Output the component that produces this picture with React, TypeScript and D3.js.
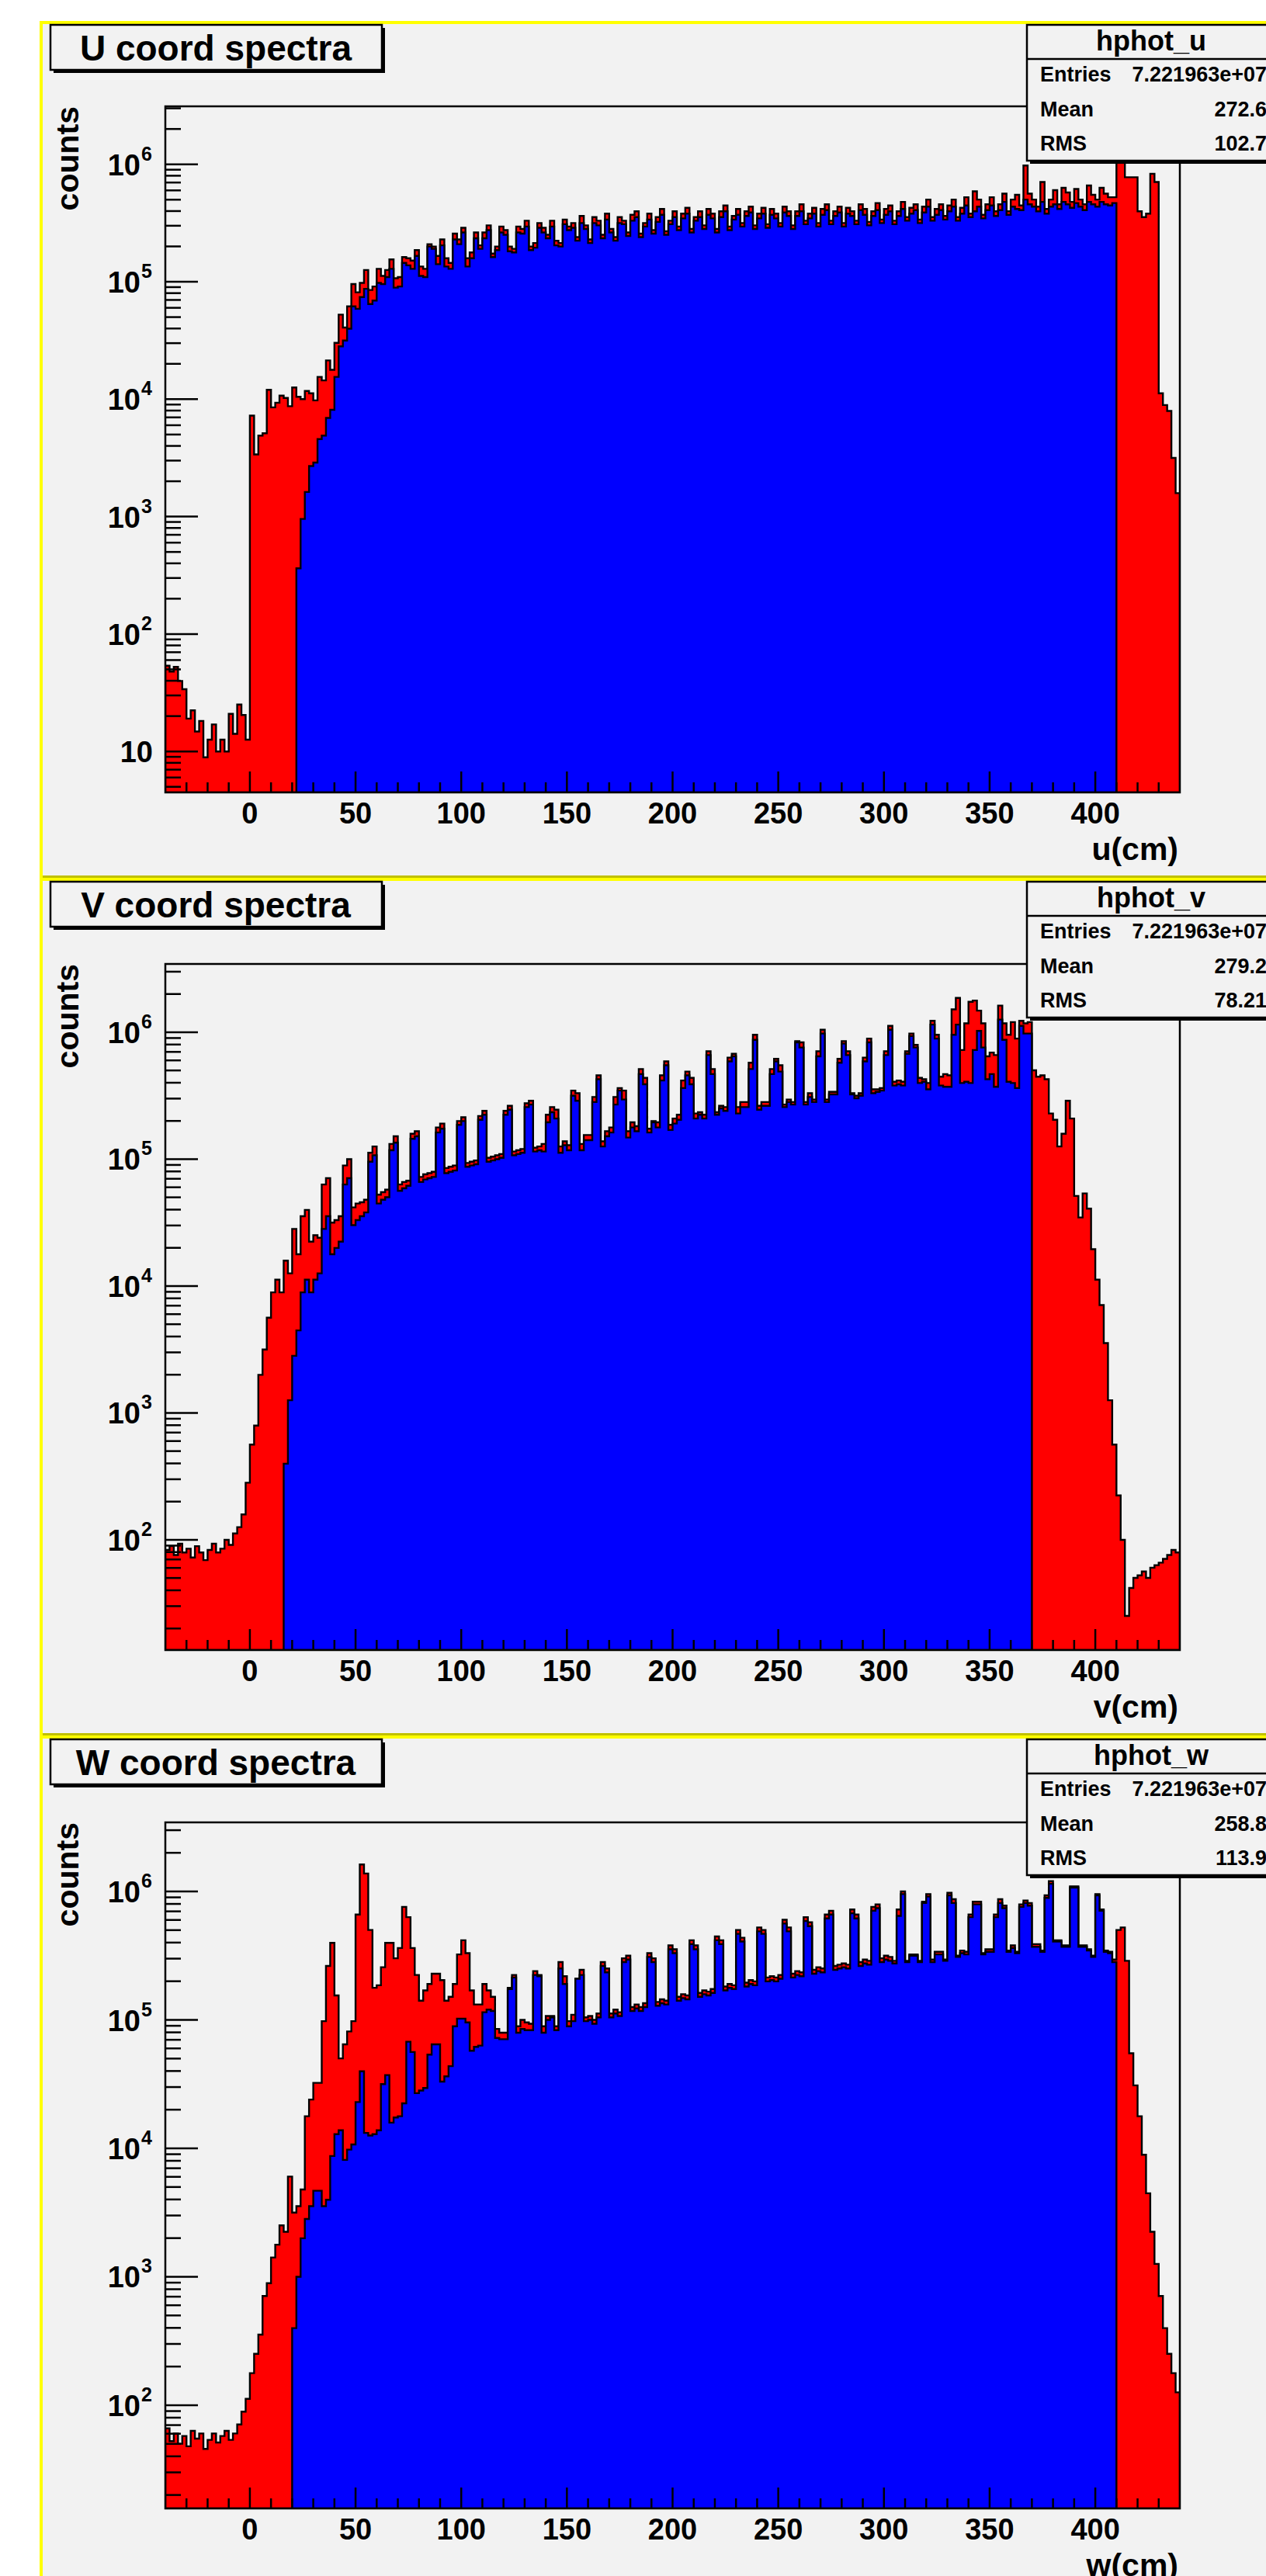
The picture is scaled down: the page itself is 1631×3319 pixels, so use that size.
import React from 'react';
import * as d3 from 'd3';

// Histogram contents as log10(counts), one value per 2 cm bin from -40 to 440 cm,
// read off the log y axis of each pad. "All" = red histogram, "Cut" = blue histogram.
const binLo = -40;
const binHi = 440;
const binWidth = 2;

const uAllLog = [
  1.73, 1.68, 1.72, 1.60, 1.53, 1.28, 1.35, 1.17, 1.26, 0.95,
  1.10, 1.23, 1.00, 1.10, 1.00, 1.32, 1.15, 1.40, 1.31, 1.10,
  3.86, 3.53, 3.69, 3.71, 4.08, 3.93, 3.97, 4.03, 4.01, 3.94,
  4.10, 4.02, 4.00, 4.07, 4.05, 3.99, 4.19, 4.16, 4.33, 4.25,
  4.48, 4.72, 4.61, 4.79, 4.98, 4.91, 4.99, 5.10, 4.93, 4.96,
  5.11, 5.05, 5.10, 5.19, 5.03, 5.04, 5.21, 5.20, 5.18, 5.27,
  5.13, 5.11, 5.32, 5.30, 5.22, 5.36, 5.20, 5.16, 5.41, 5.36,
  5.46, 5.20, 5.25, 5.42, 5.31, 5.42, 5.48, 5.24, 5.30, 5.47,
  5.44, 5.30, 5.28, 5.47, 5.45, 5.52, 5.30, 5.33, 5.50, 5.46,
  5.40, 5.52, 5.35, 5.33, 5.53, 5.47, 5.50, 5.38, 5.56, 5.48,
  5.36, 5.55, 5.52, 5.40, 5.58, 5.45, 5.38, 5.55, 5.52, 5.42,
  5.57, 5.60, 5.41, 5.50, 5.58, 5.44, 5.55, 5.62, 5.43, 5.52,
  5.60, 5.47, 5.58, 5.63, 5.45, 5.55, 5.60, 5.48, 5.62, 5.58,
  5.45, 5.60, 5.65, 5.47, 5.56, 5.62, 5.50, 5.60, 5.64, 5.48,
  5.58, 5.63, 5.49, 5.62, 5.58, 5.50, 5.64, 5.60, 5.48, 5.60,
  5.66, 5.52, 5.58, 5.63, 5.50, 5.62, 5.66, 5.52, 5.60, 5.64,
  5.50, 5.63, 5.60, 5.52, 5.66, 5.62, 5.51, 5.60, 5.67, 5.53,
  5.62, 5.65, 5.52, 5.60, 5.68, 5.55, 5.63, 5.66, 5.53, 5.64,
  5.70, 5.55, 5.62, 5.66, 5.56, 5.65, 5.70, 5.55, 5.63, 5.72,
  5.58, 5.77, 5.70, 5.57, 5.66, 5.72, 5.60, 5.66, 5.75, 5.60,
  5.70, 5.74, 5.65, 5.99, 5.75, 5.70, 5.64, 5.85, 5.62, 5.70,
  5.78, 5.66, 5.80, 5.76, 5.68, 5.79, 5.70, 5.66, 5.82, 5.74,
  5.70, 5.80, 5.75, 5.72, 5.72, 6.05, 6.03, 5.89, 5.89, 5.89,
  5.60, 5.55, 5.58, 5.92, 5.85, 4.05, 3.95, 3.90, 3.50, 3.20,
];
const uCutStart = 31; // first filled bin of the blue histogram
const uCutLog = [
  2.56, 2.98, 3.21, 3.43, 3.46, 3.66, 3.69, 3.84, 3.91,
  4.19, 4.45, 4.50, 4.60, 4.79, 4.77, 4.87, 4.94, 4.81, 4.84,
  4.99, 4.98, 5.04, 5.11, 4.95, 4.96, 5.16, 5.14, 5.11, 5.22,
  5.05, 5.04, 5.30, 5.28, 5.15, 5.31, 5.13, 5.11, 5.36, 5.32,
  5.42, 5.13, 5.20, 5.37, 5.28, 5.37, 5.44, 5.21, 5.27, 5.42,
  5.40, 5.26, 5.25, 5.42, 5.41, 5.47, 5.27, 5.29, 5.46, 5.42,
  5.37, 5.47, 5.31, 5.30, 5.49, 5.44, 5.46, 5.35, 5.50, 5.45,
  5.33, 5.50, 5.48, 5.37, 5.53, 5.42, 5.35, 5.50, 5.49, 5.39,
  5.52, 5.55, 5.38, 5.47, 5.53, 5.41, 5.51, 5.57, 5.40, 5.49,
  5.55, 5.44, 5.54, 5.58, 5.42, 5.52, 5.55, 5.45, 5.57, 5.54,
  5.42, 5.55, 5.60, 5.44, 5.53, 5.57, 5.47, 5.56, 5.59, 5.45,
  5.54, 5.58, 5.46, 5.57, 5.54, 5.47, 5.59, 5.56, 5.45, 5.56,
  5.60, 5.49, 5.54, 5.58, 5.47, 5.57, 5.61, 5.49, 5.56, 5.59,
  5.47, 5.58, 5.56, 5.49, 5.61, 5.57, 5.48, 5.56, 5.61, 5.50,
  5.57, 5.60, 5.49, 5.56, 5.62, 5.52, 5.58, 5.61, 5.50, 5.59,
  5.64, 5.52, 5.57, 5.61, 5.53, 5.60, 5.64, 5.52, 5.58, 5.65,
  5.55, 5.60, 5.64, 5.54, 5.61, 5.65, 5.56, 5.61, 5.68, 5.57,
  5.64, 5.62, 5.61, 5.70, 5.66, 5.64, 5.60, 5.68, 5.58, 5.64,
  5.66, 5.62, 5.68, 5.66, 5.63, 5.67, 5.64, 5.61, 5.68, 5.66,
  5.64, 5.68, 5.66, 5.65, 5.67,
];

const vAllLog = [
  1.92, 1.95, 1.88, 1.97, 1.90, 1.93, 1.86, 1.95, 1.90, 1.84,
  1.92, 1.97, 1.90, 1.93, 2.00, 1.96, 2.05, 2.10, 2.20, 2.45,
  2.75, 2.90, 3.30, 3.50, 3.75, 3.95, 4.05, 3.95, 4.20, 4.10,
  4.45, 4.25, 4.55, 4.60, 4.35, 4.40, 4.38, 4.80, 4.85, 4.50,
  4.52, 4.55, 4.95, 5.00, 4.62, 4.65, 4.66, 4.68, 5.05, 5.10,
  4.72, 4.74, 4.76, 5.12, 5.18, 4.80, 4.82, 4.83, 5.20, 5.22,
  4.86, 4.88, 4.89, 4.90, 5.25, 5.28, 4.93, 4.94, 4.95, 5.30,
  5.33, 4.97, 4.98, 4.99, 5.34, 5.38, 5.01, 5.02, 5.03, 5.04,
  5.38, 5.42, 5.06, 5.07, 5.08, 5.44, 5.46, 5.09, 5.10, 5.12,
  5.35, 5.41, 5.39, 5.10, 5.14, 5.11, 5.54, 5.52, 5.12, 5.19,
  5.19, 5.49, 5.66, 5.14, 5.22, 5.25, 5.49, 5.56, 5.54, 5.22,
  5.29, 5.26, 5.71, 5.64, 5.24, 5.30, 5.29, 5.66, 5.77, 5.27,
  5.32, 5.35, 5.62, 5.69, 5.64, 5.36, 5.37, 5.35, 5.85, 5.71,
  5.37, 5.42, 5.41, 5.80, 5.83, 5.41, 5.45, 5.45, 5.76, 5.98,
  5.42, 5.45, 5.45, 5.71, 5.79, 5.74, 5.43, 5.47, 5.45, 5.93,
  5.92, 5.45, 5.52, 5.47, 5.85, 6.02, 5.47, 5.53, 5.53, 5.79,
  5.93, 5.85, 5.52, 5.50, 5.52, 5.80, 5.95, 5.55, 5.55, 5.56,
  5.85, 6.05, 5.61, 5.62, 5.61, 5.85, 5.99, 5.90, 5.64, 5.63,
  5.60, 6.09, 5.98, 5.65, 5.67, 5.66, 6.18, 6.27, 5.86, 6.07,
  6.24, 6.25, 6.17, 6.07, 5.81, 5.84, 5.82, 6.21, 6.07, 5.98,
  6.08, 5.95, 6.09, 6.07, 6.08, 5.70, 5.65, 5.66, 5.63, 5.36,
  5.31, 5.10, 5.20, 5.46, 5.32, 4.71, 4.54, 4.73, 4.61, 4.29,
  4.05, 3.85, 3.55, 3.10, 2.75, 2.35, 2.00, 1.40, 1.62, 1.70,
  1.72, 1.75, 1.70, 1.78, 1.80, 1.82, 1.85, 1.88, 1.92, 1.90,
];
const vCutStart = 28;
const vCutLog = [
  2.60, 3.10,
  3.45, 3.65, 3.95, 4.05, 3.95, 4.05, 4.10, 4.45, 4.55, 4.25,
  4.30, 4.35, 4.80, 4.85, 4.48, 4.52, 4.55, 4.58, 4.98, 5.03,
  4.65, 4.68, 4.70, 5.07, 5.13, 4.75, 4.77, 4.79, 5.16, 5.18,
  4.82, 4.84, 4.85, 4.86, 5.21, 5.24, 4.89, 4.90, 4.91, 5.27,
  5.30, 4.94, 4.95, 4.96, 5.31, 5.35, 4.98, 4.99, 5.00, 5.01,
  5.35, 5.39, 5.03, 5.04, 5.05, 5.41, 5.43, 5.06, 5.07, 5.06,
  5.29, 5.37, 5.32, 5.05, 5.11, 5.07, 5.50, 5.46, 5.07, 5.15,
  5.15, 5.45, 5.63, 5.10, 5.18, 5.21, 5.43, 5.54, 5.47, 5.17,
  5.25, 5.22, 5.67, 5.59, 5.21, 5.29, 5.25, 5.62, 5.74, 5.23,
  5.28, 5.31, 5.56, 5.66, 5.59, 5.32, 5.35, 5.32, 5.82, 5.67,
  5.35, 5.40, 5.38, 5.77, 5.81, 5.36, 5.41, 5.41, 5.71, 5.94,
  5.39, 5.42, 5.42, 5.67, 5.77, 5.69, 5.41, 5.45, 5.43, 5.92,
  5.88, 5.43, 5.49, 5.45, 5.81, 5.99, 5.45, 5.51, 5.51, 5.76,
  5.91, 5.82, 5.51, 5.48, 5.50, 5.77, 5.92, 5.52, 5.53, 5.54,
  5.82, 6.02, 5.58, 5.59, 5.58, 5.83, 5.97, 5.88, 5.60, 5.61,
  5.55, 6.06, 5.95, 5.58, 5.57, 5.57, 5.98, 6.06, 5.60, 5.61,
  5.60, 5.86, 6.01, 5.88, 5.63, 5.67, 5.57, 6.10, 5.94, 5.61,
  5.60, 5.56, 6.05, 5.99, 5.99,
];

const wAllLog = [
  1.82, 1.72, 1.78, 1.70, 1.76, 1.68, 1.80, 1.74, 1.78, 1.66,
  1.73, 1.78, 1.71, 1.76, 1.80, 1.73, 1.78, 1.85, 1.95, 2.05,
  2.25, 2.40, 2.55, 2.85, 2.95, 3.15, 3.25, 3.40, 3.35, 3.78,
  3.50, 3.55, 3.68, 4.25, 4.38, 4.51, 4.51, 4.99, 5.42, 5.60,
  5.19, 4.70, 4.81, 4.91, 4.99, 5.82, 6.21, 6.14, 5.70, 5.25,
  5.27, 5.41, 5.60, 5.60, 5.48, 5.56, 5.88, 5.80, 5.56, 5.35,
  5.15, 5.23, 5.28, 5.36, 5.36, 5.31, 5.15, 5.18, 5.28, 5.51,
  5.62, 5.52, 5.23, 5.12, 5.12, 5.28, 5.23, 5.18, 4.93, 4.90,
  4.90, 5.25, 5.35, 4.95, 5.00, 4.98, 4.97, 5.38, 5.35, 4.95,
  5.03, 5.03, 4.95, 5.45, 5.34, 4.99, 5.04, 5.32, 5.39, 5.02,
  5.03, 5.00, 5.05, 5.45, 5.40, 5.05, 5.08, 5.06, 5.48, 5.50,
  5.10, 5.12, 5.10, 5.13, 5.52, 5.48, 5.14, 5.16, 5.15, 5.58,
  5.55, 5.18, 5.20, 5.19, 5.62, 5.58, 5.21, 5.23, 5.22, 5.24,
  5.65, 5.62, 5.26, 5.28, 5.27, 5.70, 5.64, 5.29, 5.31, 5.30,
  5.72, 5.70, 5.33, 5.34, 5.33, 5.35, 5.78, 5.72, 5.36, 5.38,
  5.37, 5.80, 5.76, 5.39, 5.41, 5.40, 5.82, 5.85, 5.42, 5.43,
  5.44, 5.43, 5.86, 5.82, 5.45, 5.47, 5.46, 5.88, 5.90, 5.48,
  5.50, 5.49, 5.46, 5.86, 6.00, 5.46, 5.51, 5.51, 5.46, 5.92,
  5.98, 5.47, 5.53, 5.53, 5.47, 5.99, 5.94, 5.50, 5.54, 5.53,
  5.82, 5.92, 5.92, 5.52, 5.55, 5.55, 5.82, 5.94, 5.89, 5.54,
  5.58, 5.53, 5.90, 5.93, 5.91, 5.59, 5.59, 5.54, 5.97, 6.08,
  5.62, 5.62, 5.58, 5.58, 6.04, 6.04, 5.58, 5.58, 5.55, 5.50,
  5.98, 5.86, 5.54, 5.53, 5.47, 5.70, 5.72, 5.46, 4.74, 4.49,
  4.25, 3.95, 3.65, 3.35, 3.10, 2.85, 2.60, 2.40, 2.25, 2.10,
];
const wCutStart = 30;
const wCutLog = [
  2.60, 3.00, 3.30, 3.45, 3.55, 3.67, 3.67, 3.55, 3.60,
  3.94, 4.11, 4.14, 3.91, 3.99, 4.03, 4.36, 4.60, 4.12, 4.10,
  4.11, 4.14, 4.50, 4.57, 4.20, 4.24, 4.25, 4.35, 4.83, 4.75,
  4.43, 4.45, 4.47, 4.73, 4.81, 4.81, 4.52, 4.56, 4.64, 4.95,
  5.01, 5.01, 4.98, 4.76, 4.79, 4.80, 5.06, 5.08, 5.07, 4.86,
  4.85, 4.85, 5.24, 5.33, 4.90, 4.93, 4.92, 4.92, 5.35, 5.34,
  4.90, 5.00, 5.02, 4.92, 5.40, 5.28, 4.95, 4.99, 5.32, 5.35,
  4.99, 5.00, 4.97, 5.02, 5.42, 5.37, 5.02, 5.05, 5.03, 5.45,
  5.47, 5.07, 5.09, 5.07, 5.10, 5.49, 5.45, 5.11, 5.13, 5.12,
  5.55, 5.52, 5.15, 5.17, 5.16, 5.59, 5.55, 5.18, 5.20, 5.19,
  5.21, 5.62, 5.59, 5.23, 5.25, 5.24, 5.67, 5.61, 5.26, 5.28,
  5.27, 5.69, 5.67, 5.30, 5.31, 5.30, 5.32, 5.75, 5.69, 5.33,
  5.35, 5.34, 5.77, 5.73, 5.36, 5.38, 5.37, 5.79, 5.82, 5.39,
  5.40, 5.41, 5.40, 5.83, 5.79, 5.42, 5.44, 5.43, 5.85, 5.87,
  5.45, 5.47, 5.46,
  5.44, 5.81, 5.98, 5.45, 5.50, 5.50, 5.45, 5.91, 5.96, 5.45,
  5.51, 5.51, 5.46, 5.97, 5.91, 5.49, 5.52, 5.51, 5.80, 5.90,
  5.90, 5.51, 5.53, 5.53, 5.80, 5.91, 5.87, 5.53, 5.56, 5.52,
  5.88, 5.91, 5.89, 5.57, 5.57, 5.53, 5.95, 6.06, 5.61, 5.61,
  5.57, 5.57, 6.03, 6.03, 5.57, 5.57, 5.54, 5.49, 5.97, 5.85,
  5.53, 5.52, 5.45,
];

const padTitles = ['U coord spectra', 'V coord spectra', 'W coord spectra'];
const histNames = ['hphot_u', 'hphot_v', 'hphot_w'];
const xTitles = ['u(cm)', 'v(cm)', 'w(cm)'];
const entries = ['7.221963e+07', '7.221963e+07', '7.221963e+07'];
const means = ['272.6', '279.2', '258.8'];
const rmsValues = ['102.7', '78.21', '113.9'];
const xTickValues = [0, 50, 100, 150, 200, 250, 300, 350, 400];
// log10 of the y axis bottom/top in each pad
const yLogRanges = [[0.651, 6.494], [1.131, 6.538], [1.196, 6.538]];

const allSeries = [uAllLog, vAllLog, wAllLog];
const cutSeries = [uCutLog, vCutLog, wCutLog];
const cutStarts = [uCutStart, vCutStart, wCutStart];

// layout (px)
const W = 1631;
const H = 3319;
const padTops = [27, 1131, 2236];
const frameTops = [137, 1242, 2348];
const frameH = 884;
const frameL = 213;
const frameR = 1520;
const font = '"Liberation Sans", Arial, Helvetica, sans-serif';
const padFill = '#f2f2f2';

function stepPoints(vals: number[], start: number, x: any, y: any, floor: number, ceil: number) {
  const pts: [number, number][] = [];
  pts.push([x(binLo + start * binWidth), floor]);
  vals.forEach((v, k) => {
    const b = start + k;
    const yy = v == null ? floor : Math.max(ceil, Math.min(floor, y(Math.pow(10, v))));
    pts.push([x(binLo + b * binWidth), yy]);
    pts.push([x(binLo + (b + 1) * binWidth), yy]);
  });
  pts.push([x(binLo + (start + vals.length) * binWidth), floor]);
  return pts;
}

function Pad({ i }: { i: number }) {
  const top = padTops[i];
  const fTop = frameTops[i];
  const fBot = fTop + frameH;
  const [lo, hi] = yLogRanges[i];

  const x = d3.scaleLinear().domain([binLo, binHi]).range([frameL, frameR]);
  const y = d3.scaleLog().domain([Math.pow(10, lo), Math.pow(10, hi)]).range([fBot, fTop]);
  const line = d3.line();

  const redPath = line(stepPoints(allSeries[i], 0, x, y, fBot, fTop)) + 'Z';
  const bluePath = line(stepPoints(cutSeries[i], cutStarts[i], x, y, fBot, fTop)) + 'Z';

  // log axis ticks
  const yMajor: number[] = [];
  const yMinor: number[] = [];
  for (let k = Math.floor(lo); k <= Math.ceil(hi); k++) {
    for (let m = 1; m <= 9; m++) {
      const v = m * Math.pow(10, k);
      if (Math.log10(v) < lo || Math.log10(v) > hi) continue;
      (m === 1 ? yMajor : yMinor).push(v);
    }
  }
  const xMinor = d3.range(binLo + 10, binHi, 10).filter((v) => v % 50 !== 0);
  const clipId = `frameclip${i}`;
  const labelRight = 197;

  return (
    <g fontFamily={font} fontWeight="bold" fill="#000">
      <defs>
        <clipPath id={clipId}>
          <rect x={frameL} y={fTop} width={frameR - frameL} height={frameH} />
        </clipPath>
      </defs>

      {/* histograms */}
      <g clipPath={`url(#${clipId})`}>
        <path d={redPath} fill="#ff0000" stroke="#000" strokeWidth={2.4} />
        <path d={bluePath} fill="#0000ff" stroke="#000" strokeWidth={2.4} />
      </g>

      {/* frame */}
      <rect x={frameL} y={fTop} width={frameR - frameL} height={frameH}
        fill="none" stroke="#000" strokeWidth={2.5} />

      {/* y axis ticks + labels */}
      {yMajor.map((v) => {
        const yy = y(v);
        const k = Math.round(Math.log10(v));
        return (
          <g key={`ym${v}`}>
            <line x1={frameL} x2={frameL + 42} y1={yy} y2={yy} stroke="#000" strokeWidth={2.5} />
            {k === 1 ? (
              <text x={labelRight} y={yy + 14} fontSize={38} textAnchor="end">10</text>
            ) : (
              <>
                <text x={labelRight - 16} y={yy + 14} fontSize={38} textAnchor="end">10</text>
                <text x={labelRight - 15} y={yy - 5} fontSize={25}>{k}</text>
              </>
            )}
          </g>
        );
      })}
      {yMinor.map((v) => (
        <line key={`yn${v}`} x1={frameL} x2={frameL + 20} y1={y(v)} y2={y(v)} stroke="#000" strokeWidth={2.5} />
      ))}

      {/* x axis ticks + labels */}
      {xTickValues.map((v) => (
        <g key={`xm${v}`}>
          <line x1={x(v)} x2={x(v)} y1={fBot} y2={fBot - 27} stroke="#000" strokeWidth={2.5} />
          <text x={x(v)} y={fBot + 40} fontSize={38} textAnchor="middle">{v}</text>
        </g>
      ))}
      {xMinor.map((v) => (
        <line key={`xn${v}`} x1={x(v)} x2={x(v)} y1={fBot} y2={fBot - 13} stroke="#000" strokeWidth={2.5} />
      ))}

      {/* axis titles */}
      <text x={frameR - 2} y={fBot + 87} fontSize={41} textAnchor="end">{xTitles[i]}</text>
      <text transform={`translate(101,${fTop}) rotate(-90)`} fontSize={41} textAnchor="end">counts</text>

      {/* pad title box */}
      <rect x={69} y={top + 9} width={427} height={58} fill="#000" />
      <rect x={65} y={top + 5} width={427} height={58} fill={padFill} stroke="#000" strokeWidth={2.5} />
      <text x={278} y={top + 51} fontSize={46} textAnchor="middle">{padTitles[i]}</text>

      {/* stats box */}
      <rect x={1327} y={top + 9} width={320} height={175} fill="#000" />
      <rect x={1323} y={top + 5} width={320} height={175} fill={padFill} stroke="#000" strokeWidth={2.5} />
      <line x1={1323} x2={1643} y1={top + 49} y2={top + 49} stroke="#000" strokeWidth={2.5} />
      <text x={1483} y={top + 38} fontSize={36} textAnchor="middle">{histNames[i]}</text>
      <text x={1340} y={top + 78} fontSize={27}>Entries</text>
      <text x={1632} y={top + 78} fontSize={27} textAnchor="end">{entries[i]}</text>
      <text x={1340} y={top + 123} fontSize={27}>Mean</text>
      <text x={1632} y={top + 123} fontSize={27} textAnchor="end">{means[i]}</text>
      <text x={1340} y={top + 167} fontSize={27}>RMS</text>
      <text x={1632} y={top + 167} fontSize={27} textAnchor="end">{rmsValues[i]}</text>
    </g>
  );
}

export default function App() {
  return (
    <svg width={W} height={H} viewBox={`0 0 ${W} ${H}`}
      style={{ position: 'absolute', left: 0, top: 0, display: 'block' }}>
      <rect x={0} y={0} width={W} height={H} fill="#fff" />
      {padTops.map((t, i) => {
        const next = i < padTops.length - 1 ? padTops[i + 1] : H + 10;
        return (
          <g key={`bg${i}`}>
            <rect x={51} y={t} width={W - 51} height={next - t} fill={padFill} />
            <rect x={51} y={t} width={W - 51} height={4} fill="#ffff00" />
            <rect x={51} y={next - 3} width={W - 51} height={3} fill="#c0c000" />
          </g>
        );
      })}
      <rect x={51} y={27} width={4} height={H - 27} fill="#ffff00" />
      {padTops.map((_, i) => <Pad key={i} i={i} />)}
    </svg>
  );
}
